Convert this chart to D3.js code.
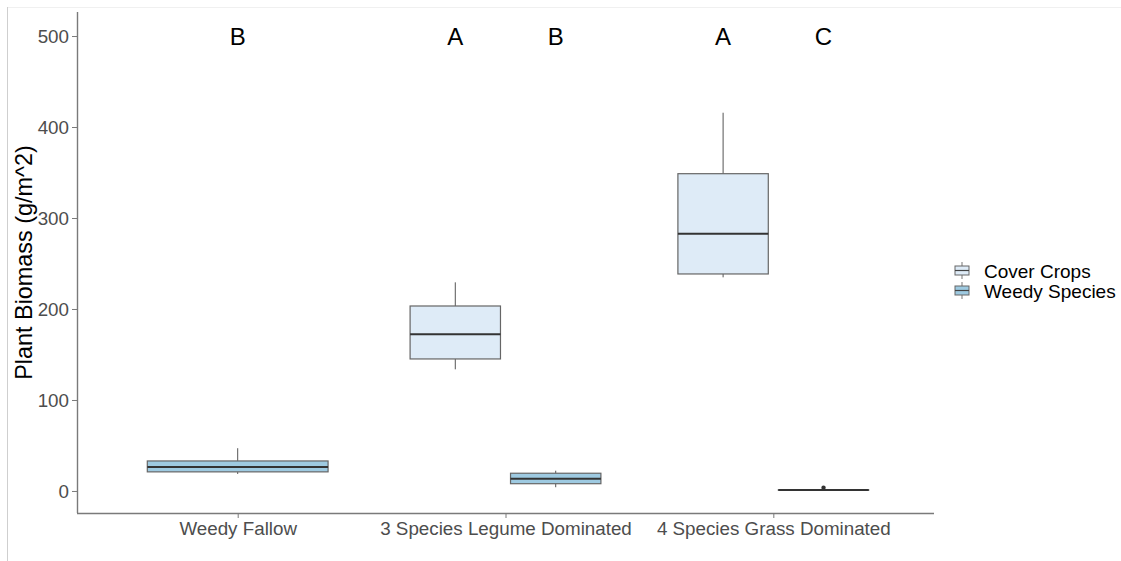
<!DOCTYPE html>
<html>
<head>
<meta charset="utf-8">
<script src="https://cdn.jsdelivr.net/npm/d3@7"></script>
<style>
  body { margin: 0; background: #fff; }
  text { font-family: "Liberation Sans", Arial, sans-serif; }
</style>
</head>
<body>
<svg id="chart"></svg>
<script>
// data: [min, q1, median, q3, max]
var categories = ["Weedy Fallow", "3 Species Legume Dominated", "4 Species Grass Dominated"];
var series = ["Cover Crops", "Weedy Species"];
var coverCrops = [null, [133.7, 145.1, 172.2, 203.3, 229.3], [234.8, 238.5, 282.8, 348.7, 415.7]];
var weedySpecies = [[18.7, 21, 26.4, 33, 47], [4.1, 8.0, 13.5, 19.5, 22.3], [0.6, 0.9, 1.0, 1.2, 1.5]];
var weedyOutliers = [[], [], [3.6]];
var coverLetters = [null, "A", "A"];
var weedyLetters = ["B", "B", "C"];
var yTicks = [0, 100, 200, 300, 400, 500];
var letterY = 500;

var width = 1121, height = 561;
// panel edges (note: "top" is a reserved window property)
var panelLeft = 77, panelRight = 934, panelTop = 12, panelBottom = 513;

var svg = d3.select("#chart")
  .attr("width", width)
  .attr("height", height);

// faint frame of the screenshot
svg.append("line").attr("x1", 7).attr("x2", width).attr("y1", 7.5).attr("y2", 7.5)
  .attr("stroke", "#f0f0f0").attr("stroke-width", 1);
svg.append("line").attr("x1", 7.5).attr("x2", 7.5).attr("y1", 7).attr("y2", height)
  .attr("stroke", "#cfcfcf").attr("stroke-width", 1);

var x = d3.scalePoint()
  .domain(categories)
  .range([panelLeft, panelRight])
  .padding(0.6);

var y = d3.scaleLinear()
  .domain([-24.2, 526.4])
  .range([panelBottom, panelTop]);

var fills = d3.scaleOrdinal().domain(series).range(["#deebf7", "#9ecae1"]);

// build boxes with ggplot-like dodge (width 0.75, padding 0.1)
var step = x.step();
var boxes = [];
categories.forEach(function(c, i) {
  var present = [];
  if (coverCrops[i]) present.push({ series: series[0], stats: coverCrops[i], out: [], letter: coverLetters[i] });
  if (weedySpecies[i]) present.push({ series: series[1], stats: weedySpecies[i], out: weedyOutliers[i], letter: weedyLetters[i] });
  var total = 0.75 * step;
  var each = total / present.length;
  present.forEach(function(p, j) {
    p.cx = x(c) - total / 2 + each * (j + 0.5);
    p.w = each * 0.9;
    boxes.push(p);
  });
});

var g = svg.append("g");

var box = g.selectAll("g.box")
  .data(boxes)
  .enter()
  .append("g")
    .attr("class", "box");

// whiskers
box.append("line")
  .attr("x1", function(d) { return d.cx; })
  .attr("x2", function(d) { return d.cx; })
  .attr("y1", function(d) { return y(d.stats[4]); })
  .attr("y2", function(d) { return y(d.stats[3]); })
  .attr("stroke", "#555").attr("stroke-width", 1);
box.append("line")
  .attr("x1", function(d) { return d.cx; })
  .attr("x2", function(d) { return d.cx; })
  .attr("y1", function(d) { return y(d.stats[1]); })
  .attr("y2", function(d) { return y(d.stats[0]); })
  .attr("stroke", "#555").attr("stroke-width", 1);

box.append("rect")
  .attr("x", function(d) { return d.cx - d.w / 2; })
  .attr("width", function(d) { return d.w; })
  .attr("y", function(d) { return y(d.stats[3]); })
  .attr("height", function(d) { return y(d.stats[1]) - y(d.stats[3]); })
  .attr("fill", function(d) { return fills(d.series); })
  .attr("stroke", "#666").attr("stroke-width", 1.2);

box.append("line")
  .attr("x1", function(d) { return d.cx - d.w / 2; })
  .attr("x2", function(d) { return d.cx + d.w / 2; })
  .attr("y1", function(d) { return y(d.stats[2]); })
  .attr("y2", function(d) { return y(d.stats[2]); })
  .attr("stroke", "#333").attr("stroke-width", 2);

box.selectAll("circle")
  .data(function(d) { return d.out.map(function(v) { return { cx: d.cx, v: v }; }); })
  .enter()
  .append("circle")
    .attr("cx", function(d) { return d.cx; })
    .attr("cy", function(d) { return y(d.v); })
    .attr("r", 2.2)
    .attr("fill", "#333");

// significance letters
box.filter(function(d) { return d.letter; })
  .append("text")
    .attr("x", function(d) { return d.cx; })
    .attr("y", y(letterY))
    .attr("dy", "0.36em")
    .attr("text-anchor", "middle")
    .style("font-size", "24px")
    .attr("fill", "#000")
    .text(function(d) { return d.letter; });

// axes
var yAxis = svg.append("g")
  .attr("transform", "translate(" + panelLeft + ",0)")
  .call(d3.axisLeft(y).tickValues(yTicks).tickSize(5).tickPadding(3));
var xAxis = svg.append("g")
  .attr("transform", "translate(0," + panelBottom + ")")
  .call(d3.axisBottom(x).tickSize(5).tickPadding(4));

[yAxis, xAxis].forEach(function(a) {
  a.select(".domain").attr("stroke", "#7a7a7a").attr("stroke-width", 1.4);
  a.selectAll(".tick line").attr("stroke", "#7a7a7a");
  a.selectAll(".tick text")
    .attr("fill", "#4d4d4d")
    .style("font-size", "18.8px")
    .style("font-family", "'Liberation Sans', Arial, sans-serif");
});
// domain only spans the panel, without outer ticks
yAxis.select(".domain").attr("d", "M0.5," + panelTop + "V" + panelBottom);
xAxis.select(".domain").attr("d", "M" + panelLeft + ",0.5H" + panelRight);

svg.append("text")
  .attr("transform", "translate(32," + ((panelTop + panelBottom) / 2) + ") rotate(-90)")
  .attr("text-anchor", "middle")
  .style("font-size", "23.4px")
  .attr("fill", "#000")
  .text("Plant Biomass (g/m^2)");

// legend
var legend = svg.append("g")
  .attr("transform", "translate(954,262)");
var key = legend.selectAll("g")
  .data(series)
  .enter()
  .append("g")
    .attr("transform", function(d, i) { return "translate(0," + (i * 20) + ")"; });
key.append("line")
  .attr("x1", 8).attr("x2", 8).attr("y1", 0).attr("y2", 17)
  .attr("stroke", "#777").attr("stroke-width", 1);
key.append("rect")
  .attr("x", 1).attr("y", 4).attr("width", 14).attr("height", 9)
  .attr("fill", function(d) { return fills(d); })
  .attr("stroke", "#666").attr("stroke-width", 1);
key.append("line")
  .attr("x1", 1).attr("x2", 15).attr("y1", 8.5).attr("y2", 8.5)
  .attr("stroke", "#444").attr("stroke-width", 1.2);
key.append("text")
  .attr("x", 30)
  .attr("y", 9)
  .attr("dy", "0.36em")
  .style("font-size", "19px")
  .attr("fill", "#000")
  .text(function(d) { return d; });
</script>
</body>
</html>
